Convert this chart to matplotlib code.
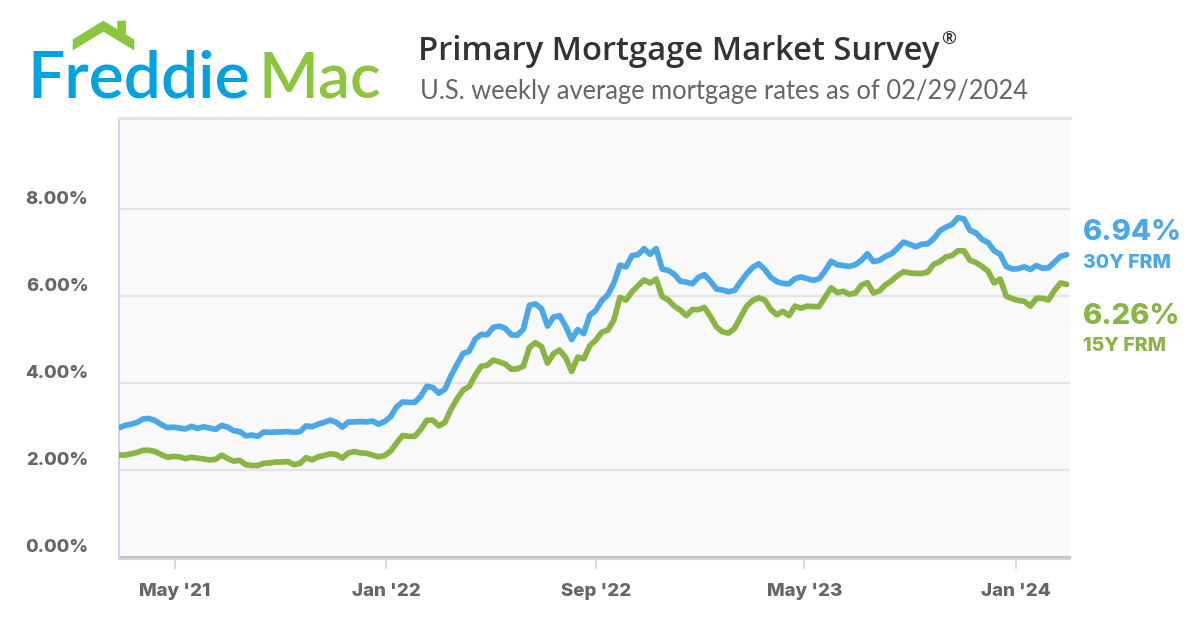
import matplotlib
matplotlib.use('Agg')
import matplotlib.pyplot as plt
import matplotlib.transforms as mtransforms
from matplotlib.patches import Polygon
import pandas as pd

# weekly PMMS rates, first week 02/25/2021, last week 02/29/2024
week_start = '2021-02-25'
rate_30y = [
    # 2021
    2.97, 3.02, 3.05, 3.09, 3.17, 3.18, 3.13, 3.04, 2.97, 2.98,
    2.96, 2.94, 3.00, 2.95, 2.99, 2.96, 2.93, 3.02, 2.98, 2.90,
    2.88, 2.78, 2.80, 2.77, 2.87, 2.86, 2.87, 2.87, 2.88, 2.86,
    2.88, 3.01, 2.99, 3.05, 3.09, 3.14, 3.09, 2.98, 3.10, 3.10,
    3.11, 3.10, 3.12, 3.05, 3.11,
    # 2022
    3.22, 3.45, 3.56, 3.55, 3.55, 3.69, 3.92, 3.89, 3.76, 3.85,
    4.16, 4.42, 4.67, 4.72, 5.00, 5.11, 5.10, 5.27, 5.30, 5.25,
    5.10, 5.09, 5.23, 5.78, 5.81, 5.70, 5.30, 5.51, 5.54, 5.30,
    4.99, 5.22, 5.13, 5.55, 5.66, 5.89, 6.02, 6.29, 6.70, 6.66,
    6.92, 6.94, 7.08, 6.95, 7.08, 6.61, 6.58, 6.49, 6.33, 6.31,
    6.27, 6.42,
    # 2023
    6.48, 6.33, 6.15, 6.13, 6.09, 6.12, 6.32, 6.50, 6.65, 6.73,
    6.60, 6.42, 6.32, 6.28, 6.27, 6.39, 6.43, 6.39, 6.35, 6.39,
    6.57, 6.79, 6.71, 6.69, 6.67, 6.71, 6.81, 6.96, 6.78, 6.81,
    6.90, 6.96, 7.09, 7.23, 7.18, 7.12, 7.18, 7.19, 7.31, 7.49,
    7.57, 7.63, 7.79, 7.76, 7.50, 7.44, 7.29, 7.22, 7.03, 6.95,
    6.67, 6.61,
    # 2024
    6.62, 6.66, 6.60, 6.69, 6.63, 6.64, 6.77, 6.90, 6.94,
]
rate_15y = [
    # 2021
    2.34, 2.34, 2.37, 2.40, 2.45, 2.45, 2.42, 2.35, 2.29, 2.31,
    2.30, 2.26, 2.29, 2.27, 2.25, 2.23, 2.24, 2.34, 2.26, 2.20,
    2.22, 2.12, 2.10, 2.10, 2.15, 2.16, 2.18, 2.18, 2.19, 2.12,
    2.15, 2.28, 2.23, 2.30, 2.33, 2.37, 2.35, 2.27, 2.39, 2.42,
    2.39, 2.38, 2.34, 2.30, 2.33,
    # 2022
    2.43, 2.62, 2.79, 2.77, 2.77, 2.93, 3.14, 3.14, 3.01, 3.09,
    3.39, 3.63, 3.83, 3.91, 4.17, 4.38, 4.40, 4.52, 4.48, 4.43,
    4.31, 4.32, 4.38, 4.81, 4.92, 4.83, 4.45, 4.67, 4.75, 4.58,
    4.26, 4.59, 4.55, 4.85, 4.98, 5.16, 5.21, 5.44, 5.96, 5.90,
    6.09, 6.23, 6.36, 6.29, 6.38, 5.98, 5.90, 5.76, 5.67, 5.54,
    5.68, 5.68,
    # 2023
    5.73, 5.52, 5.28, 5.17, 5.14, 5.25, 5.51, 5.76, 5.89, 5.95,
    5.90, 5.68, 5.56, 5.64, 5.54, 5.76, 5.71, 5.76, 5.75, 5.75,
    5.97, 6.18, 6.07, 6.10, 6.03, 6.06, 6.24, 6.30, 6.06, 6.11,
    6.25, 6.34, 6.46, 6.55, 6.52, 6.51, 6.51, 6.54, 6.72, 6.78,
    6.89, 6.92, 7.03, 7.03, 6.81, 6.76, 6.67, 6.56, 6.29, 6.38,
    5.99, 5.93,
    # 2024
    5.89, 5.87, 5.76, 5.94, 5.94, 5.90, 6.12, 6.29, 6.26,
]
tick_dates = ['2021-05-01', '2022-01-01', '2022-09-01', '2023-05-01', '2024-01-01']
tick_labels = ["May '21", "Jan '22", "Sep '22", "May '23", "Jan '24"]
y_ticks = [0, 2, 4, 6, 8]

weeks = pd.date_range(week_start, periods=len(rate_30y), freq='7D')

BLUE = '#4aa8e8'
GREEN = '#88b543'
LOGO_BLUE = '#00a3e0'
LOGO_GREEN = '#8cc63f'
GRAY = '#666666'
LABEL_FONT = 'Inter'
W, H = 1200, 630


def px(x, y):
    # pixel position (from top left) -> figure fraction
    return x / W, 1 - y / H


fig = plt.figure(figsize=(12, 6.3), dpi=100)
fig.patch.set_facecolor('white')

ax = fig.add_axes([119 / W, 73 / H, 951 / W, 439 / H])
ax.set_facecolor('#f9f9f9')

ax.plot(weeks, rate_30y, color=BLUE, lw=4.1, solid_joinstyle='round',
        solid_capstyle='round', zorder=4)
ax.plot(weeks, rate_15y, color=GREEN, lw=4.1, solid_joinstyle='round',
        solid_capstyle='round', zorder=3)

ax.set_xlim(weeks[0], weeks[-1] + pd.Timedelta(days=4))
ax.set_ylim(0, 439 / 43.56)

for v in y_ticks[1:]:
    ax.axhline(v, color='#e4e4e4', lw=1.6, zorder=1)
ax.axhline(0, color='#c4c4c4', lw=1.6, zorder=2, clip_on=False)

ax.spines['right'].set_visible(False)
ax.spines['top'].set_color('#e2e2e2')
ax.spines['top'].set_linewidth(2.4)
ax.spines['left'].set_color('#ccd6eb')
ax.spines['left'].set_linewidth(1.5)
ax.spines['bottom'].set_color('#ccd6eb')
ax.spines['bottom'].set_linewidth(1.5)
ax.spines['bottom'].set_position(('outward', 1.5))

ax.set_xticks(pd.to_datetime(tick_dates))
ax.set_xticklabels(tick_labels)
ax.tick_params(axis='x', length=7, width=1.2, color='#ccd6eb', pad=10,
               labelsize=13.5, labelcolor=GRAY)
for lbl in ax.get_xticklabels():
    lbl.set_fontweight('heavy')
    lbl.set_fontfamily(LABEL_FONT)

ax.set_yticks(y_ticks)
ax.set_yticklabels([f'{v:.2f}%' for v in y_ticks])
ax.tick_params(axis='y', length=0, pad=22, labelsize=13.2, labelcolor=GRAY)
shift = mtransforms.ScaledTranslation(0, 11 / 100, fig.dpi_scale_trans)
for lbl in ax.get_yticklabels():
    lbl.set_fontweight('heavy')
    lbl.set_fontfamily(LABEL_FONT)
    lbl.set_transform(lbl.get_transform() + shift)

# latest values at the right
fig.text(*px(1083, 232), f'{rate_30y[-1]:.2f}%', color=BLUE, fontsize=21,
         fontweight='heavy', family=LABEL_FONT, va='center', ha='left')
fig.text(*px(1083, 263), '30Y FRM', color=BLUE, fontsize=14,
         fontweight='heavy', family=LABEL_FONT, va='center', ha='left')
fig.text(*px(1083, 317), f'{rate_15y[-1]:.2f}%', color=GREEN, fontsize=21,
         fontweight='heavy', family=LABEL_FONT, va='center', ha='left')
fig.text(*px(1083, 346), '15Y FRM', color=GREEN, fontsize=14,
         fontweight='heavy', family=LABEL_FONT, va='center', ha='left')

# title block
title = fig.text(*px(418, 60), 'Primary Mortgage Market Survey',
                 color='#333333', fontsize=23.6, family='Open Sans',
                 fontweight='semibold', va='baseline')
renderer = fig.canvas.get_renderer()
t_end = title.get_window_extent(renderer).x1
fig.text(t_end / W + 2 / W, 1 - 44 / H, '\u00ae', color='#333333',
         fontsize=13, family='Open Sans', fontweight='semibold',
         va='baseline')
fig.text(*px(420, 99), 'U.S. weekly average mortgage rates as of 02/29/2024',
         color=GRAY, fontsize=18.4, family='Lato', va='baseline')

# logo
fig.text(*px(27, 97), 'Freddie', color=LOGO_BLUE, fontsize=47.5, family='Lato',
         fontweight='semibold', va='baseline')
fig.text(*px(258, 97), 'Mac', color=LOGO_GREEN, fontsize=46, family='Lato',
         fontweight='semibold', va='baseline')
roof = [(72.7, 39.5), (103.3, 20.7), (117.3, 29.2), (117.3, 20.7), (126, 20.7),
        (126, 34.5), (134.3, 39.5), (134.3, 50.5), (103.3, 31.7), (72.7, 50.5)]
fig.add_artist(Polygon([px(x, y) for x, y in roof], closed=True,
                       transform=fig.transFigure, facecolor=LOGO_GREEN,
                       edgecolor='none'))

fig.savefig('out.png', dpi=100)
